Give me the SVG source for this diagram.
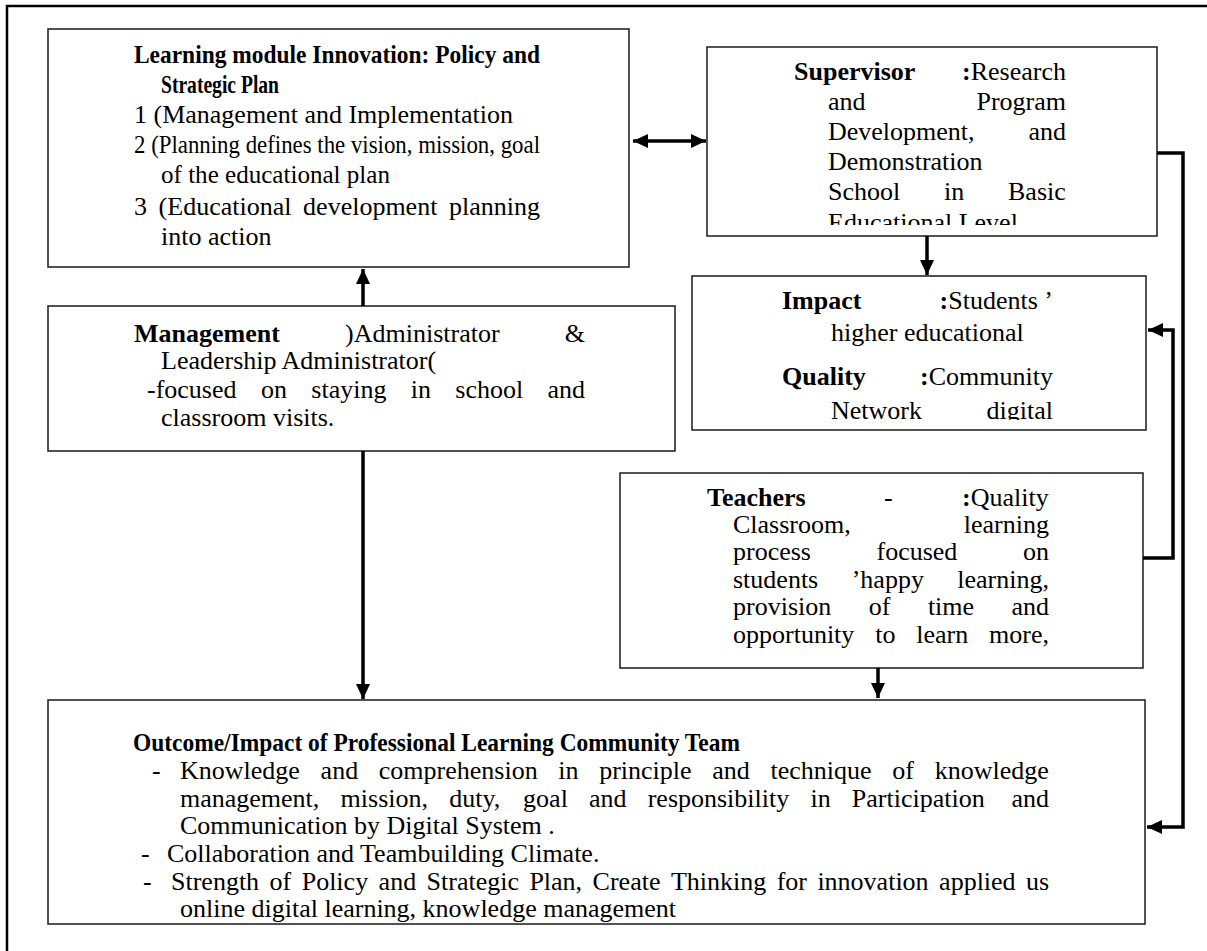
<svg xmlns="http://www.w3.org/2000/svg" width="1207" height="951" viewBox="0 0 1207 951">
  <style>
    .box { fill: #ffffff; stroke: #1a1a1a; stroke-width: 1.5; }
    .frame { fill: none; stroke: #000000; stroke-width: 2.5; }
    .t { font-family: "Liberation Serif", "Times New Roman", serif; font-size: 26px; fill: #000000; }
    .b { font-weight: bold; }
    .wire { fill: none; stroke: #000000; stroke-width: 3.5; }
  </style>
  <defs>
    <marker id="head" markerUnits="userSpaceOnUse" markerWidth="16" markerHeight="14" refX="15" refY="7" orient="auto-start-reverse">
      <path d="M0,0 L15,7 L0,14 Z" fill="#000000"/>
    </marker>
    <clipPath id="clipSup"><rect x="707" y="47" width="450" height="178"/></clipPath>
    <clipPath id="clipImpact"><rect x="692" y="276" width="454" height="144"/></clipPath>
  </defs>

  <rect width="1207" height="951" fill="#ffffff"/>
  <!-- page frame -->
  <path class="frame" d="M7,951 V6 H1207"/>

  <!-- policy and strategic plan -->
  <g id="policy">
    <rect class="box" x="48" y="29" width="581" height="238"/>
    <text class="t b" x="134" y="63" textLength="406" lengthAdjust="spacingAndGlyphs">Learning module Innovation: Policy and</text>
    <text class="t b" x="161" y="93" textLength="118" lengthAdjust="spacingAndGlyphs">Strategic Plan</text>
    <text class="t" x="134" y="123">1 (Management and Implementation</text>
    <text class="t" x="134" y="153" textLength="406" lengthAdjust="spacingAndGlyphs">2 (Planning defines the vision, mission, goal</text>
    <text class="t" x="161" y="183" textLength="229" lengthAdjust="spacingAndGlyphs">of the educational plan</text>
    <text class="t" y="215"><tspan x="134">3</tspan><tspan x="158.6">(Educational</tspan><tspan x="303.1">development</tspan><tspan x="449">planning</tspan></text>
    <text class="t" x="161" y="245">into action</text>
  </g>

  <!-- supervisor -->
  <g id="supervisor">
    <rect class="box" x="707" y="47" width="450" height="189"/>
    <g clip-path="url(#clipSup)">
      <text class="t" y="80"><tspan class="b" x="794">Supervisor</tspan><tspan class="b" x="962">:</tspan><tspan>Research</tspan></text>
      <text class="t" y="110"><tspan x="828">and</tspan><tspan x="976.5">Program</tspan></text>
      <text class="t" y="140"><tspan x="828">Development,</tspan><tspan x="1028.5">and</tspan></text>
      <text class="t" x="828" y="170">Demonstration</text>
      <text class="t" y="200"><tspan x="828">School</tspan><tspan x="944">in</tspan><tspan x="1008">Basic</tspan></text>
      <text class="t" x="828" y="231">Educational Level</text>
    </g>
  </g>

  <!-- impact and quality -->
  <g id="impact">
    <rect class="box" x="692" y="276" width="454" height="154"/>
    <g clip-path="url(#clipImpact)">
      <text class="t" y="309"><tspan class="b" x="782">Impact</tspan><tspan class="b" x="939.6">:</tspan><tspan>Students ’</tspan></text>
      <text class="t" x="831" y="341">higher educational</text>
      <text class="t" y="385"><tspan class="b" x="782">Quality</tspan><tspan class="b" x="920.1">:</tspan><tspan>Community</tspan></text>
      <text class="t" y="419"><tspan x="831">Network</tspan><tspan x="986.5">digital</tspan></text>
    </g>
  </g>

  <!-- management -->
  <g id="management">
    <rect class="box" x="48" y="306" width="627" height="145"/>
    <text class="t" y="342"><tspan class="b" x="134">Management</tspan><tspan x="345.1">)Administrator</tspan><tspan x="564.8">&amp;</tspan></text>
    <text class="t" x="161" y="369">Leadership Administrator(</text>
    <text class="t" y="398"><tspan x="147">-focused</tspan><tspan x="260.9">on</tspan><tspan x="311.3">staying</tspan><tspan x="410.7">in</tspan><tspan x="455.3">school</tspan><tspan x="547.5">and</tspan></text>
    <text class="t" x="161" y="426">classroom visits.</text>
  </g>

  <!-- teachers -->
  <g id="teachers">
    <rect class="box" x="620" y="473" width="523" height="195"/>
    <text class="t" y="506"><tspan class="b" x="707">Teachers</tspan><tspan x="884">-</tspan><tspan class="b" x="962">:</tspan><tspan>Quality</tspan></text>
    <text class="t" y="533"><tspan x="733">Classroom,</tspan><tspan x="963.8">learning</tspan></text>
    <text class="t" y="560"><tspan x="733">process</tspan><tspan x="876.5">focused</tspan><tspan x="1023">on</tspan></text>
    <text class="t" y="588"><tspan x="733">students</tspan><tspan x="851.7">’happy</tspan><tspan x="957.3">learning,</tspan></text>
    <text class="t" y="615"><tspan x="733">provision</tspan><tspan x="868.7">of</tspan><tspan x="927.9">time</tspan><tspan x="1011.5">and</tspan></text>
    <text class="t" y="643"><tspan x="733">opportunity</tspan><tspan x="875.2">to</tspan><tspan x="916.2">learn</tspan><tspan x="989.1">more,</tspan></text>
  </g>

  <!-- outcome -->
  <g id="outcome">
    <rect class="box" x="48" y="700" width="1097" height="224"/>
    <text class="t b" x="133" y="751" textLength="607" lengthAdjust="spacingAndGlyphs">Outcome/Impact of Professional Learning Community Team</text>
    <text class="t" y="779"><tspan x="152">-</tspan><tspan x="180">Knowledge</tspan><tspan x="320.6">and</tspan><tspan x="378.8">comprehension</tspan><tspan x="558.3">in</tspan><tspan x="599.2">principle</tspan><tspan x="712.3">and</tspan><tspan x="770.5">technique</tspan><tspan x="892.3">of</tspan><tspan x="934.7">knowledge</tspan></text>
    <text class="t" y="807"><tspan x="180">management,</tspan><tspan x="340.6">mission,</tspan><tspan x="449.2">duty,</tspan><tspan x="523.1">goal</tspan><tspan x="589">and</tspan><tspan x="647.7">responsibility</tspan><tspan x="810.5">in</tspan><tspan x="851.8">Participation</tspan><tspan x="1011.5">and</tspan></text>
    <text class="t" x="180" y="834">Communication by Digital System .</text>
    <text class="t" y="862"><tspan x="141">-</tspan><tspan x="167">Collaboration and Teambuilding Climate.</tspan></text>
    <text class="t" y="890"><tspan x="143">-</tspan><tspan x="171">Strength</tspan><tspan x="269.5">of</tspan><tspan x="301.7">Policy</tspan><tspan x="378.6">and</tspan><tspan x="426.6">Strategic</tspan><tspan x="529.4">Plan,</tspan><tspan x="592.6">Create</tspan><tspan x="670.9">Thinking</tspan><tspan x="776.7">for</tspan><tspan x="817.4">innovation</tspan><tspan x="939.1">applied</tspan><tspan x="1025.9">us</tspan></text>
    <text class="t" x="180" y="917">online digital learning, knowledge management</text>
  </g>

  <!-- connectors -->
  <g id="connectors">
    <line class="wire" x1="633" y1="141" x2="706" y2="141" marker-start="url(#head)" marker-end="url(#head)"/>
    <line class="wire" x1="927" y1="236" x2="927" y2="275" marker-end="url(#head)"/>
    <line class="wire" x1="363" y1="306" x2="363" y2="269" marker-end="url(#head)"/>
    <line class="wire" x1="363" y1="451" x2="363" y2="699" marker-end="url(#head)"/>
    <line class="wire" x1="878" y1="668" x2="878" y2="698" marker-end="url(#head)"/>
    <path class="wire" d="M1157,153 H1183 V827 H1147" marker-end="url(#head)"/>
    <path class="wire" d="M1143,558 H1173 V330 H1148" marker-end="url(#head)"/>
  </g>
</svg>
